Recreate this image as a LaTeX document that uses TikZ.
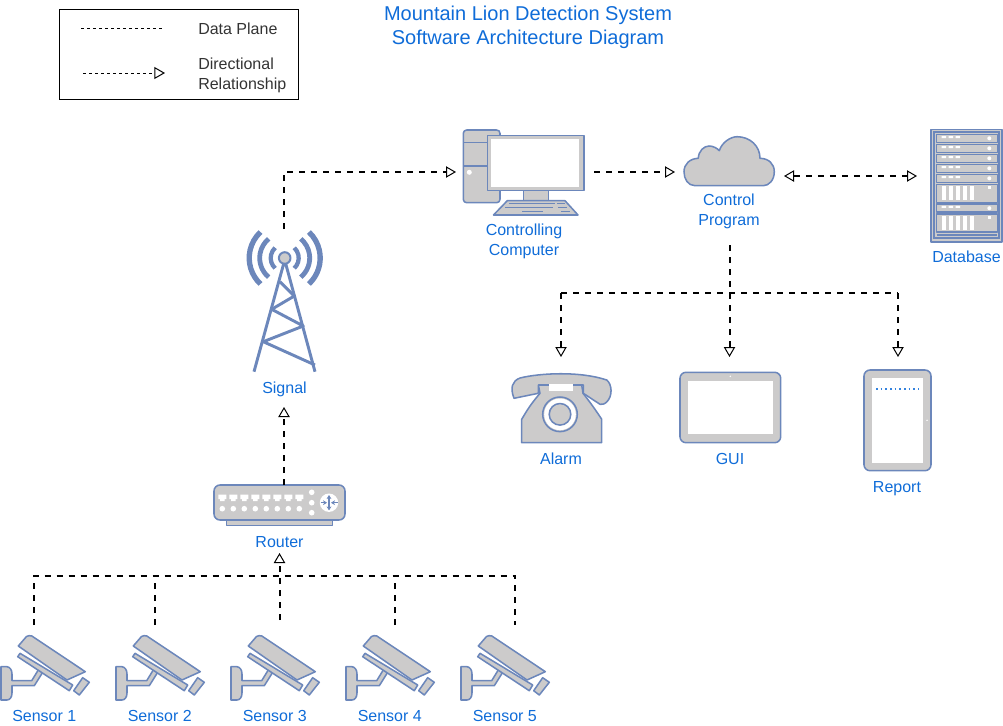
\documentclass[tikz,border=0pt]{standalone}
\usepackage{fontspec}
\setmainfont{Liberation Sans}
\usetikzlibrary{arrows.meta}
\definecolor{iconblue}{HTML}{6C87BB}
\definecolor{icongray}{HTML}{CCCBCB}
\definecolor{labelblue}{HTML}{0F6CD8}
\tikzset{
  icon/.style={draw=iconblue,fill=icongray,line width=1.15pt,line join=round},
  hole/.style={fill=white,draw=none},
  lbl/.style={text=labelblue,font=\fontsize{12}{15}\selectfont,align=center,inner sep=0pt},
  legendtxt/.style={text=black!80,font=\fontsize{12}{15}\selectfont,align=left,inner sep=0pt,anchor=west},
  link/.style={line width=1.5pt,dash pattern=on 4.8pt off 4.2pt},
  openhead/.tip={Triangle[length=7.5pt,width=8.5pt,fill=white,line width=.75pt]},
  pics/sensor/.style={code={
    \draw[icon] (0,46.7) -- (6,46.7) .. controls (9,47) and (11,50) .. (11,54) -- (11,60.7) -- (30.7,60.7)
      -- (38.3,48.3) -- (42.7,50.7) -- (33.3,65.7) -- (11,65.7) -- (11,73) .. controls (11,77) and (9,80) .. (6,80) -- (0,80) -- cycle;
    \draw[icon] (19,33.3) -- (16.7,36.7) -- (68.3,70.7) -- (71.7,65) -- cycle;
    \draw[icon] (17.3,26) -- (25.5,16.5) .. controls (27,15.5) and (29,15.5) .. (30.7,15.9) -- (84.3,51.7) -- (66,60) -- cycle;
    \draw[icon] (81.7,57.7) -- (88.3,62.3) -- (78.3,75) -- (72.7,70.7) -- cycle;
  }},
  pics/rackunit/.style={code={
    \draw[icon,line width=1.1pt] (936.7,0) rectangle (997.3,8);
    \fill[white] (941.7,1.7) rectangle (946,3.7) (948.7,1.7) rectangle (953,3.7) (955.7,1.7) rectangle (960,3.7);
    \fill[white] (989.3,4) circle (2);
  }},
  pics/rackbig/.style={code={
    \draw[icon,line width=1.1pt] (936.7,0) rectangle (997.3,18);
    \foreach \x in {941.7,948.7,955.7,962.7,969.7} \fill[white] (\x,2) rectangle ++(4.6,14);
    \fill[white] (987.5,2) rectangle ++(3.6,3);
  }}
}
\begin{document}
\begin{tikzpicture}[x=0.75pt,y=-0.75pt]
  \useasboundingbox (0,0) rectangle (1003,725);
  % legend
  \node[draw=black,line width=.75pt,minimum width=179.25pt,minimum height=67.5pt,inner sep=0pt] (legend) at (179,54.5) {};
  \node[legendtxt] (dataplane) at (198,28.5) {Data Plane};
  \node[legendtxt] (directional) at (198,75.5) {Directional\\Relationship};
  \coordinate (planea) at (81,28);
  \coordinate (planeb) at (163,28);
  \coordinate (dira) at (83,73);
  \coordinate (dirb) at (165,73);
  \draw[line width=.75pt,dash pattern=on 2.25pt off 2.25pt] (planea) -- (planeb);
  \draw[line width=.75pt,dash pattern=on 2.25pt off 2.25pt,-{Triangle[length=8pt,width=9pt,fill=white,line width=.75pt]}] (dira) -- (dirb);
  % title
  \node[text=labelblue,font=\fontsize{15}{18}\selectfont,align=center,inner sep=0pt] (title) at (528,27.5)
    {Mountain Lion Detection System\\Software Architecture Diagram};

  % sensors
  \pic at (1,620) {sensor};
  \pic at (116,620) {sensor};
  \pic at (231,620) {sensor};
  \pic at (346,620) {sensor};
  \pic at (461,620) {sensor};
  \node[lbl] (sensor1) at (44.3,716) {Sensor 1};
  \node[lbl] (sensor2) at (159.8,716) {Sensor 2};
  \node[lbl] (sensor3) at (274.8,716) {Sensor 3};
  \node[lbl] (sensor4) at (389.8,716) {Sensor 4};
  \node[lbl] (sensor5) at (504.8,716) {Sensor 5};

  % router
  \draw[icon] (226.7,520) rectangle (332.3,525.7);
  \draw[icon,rounded corners=4.5pt] (214,485) rectangle (345,520);
  \foreach \x in {222.3,233.3,244.3,255.3,266.3,277.3,288.3,299.3} {
    \fill[white] (\x-4,494.5) -- (\x+4,494.5) -- (\x+4,499) -- (\x+2.2,499) -- (\x+2.2,501) -- (\x-2.2,501) -- (\x-2.2,499) -- (\x-4,499) -- cycle;
    \fill[white] (\x,508.7) circle (2.8);
  }
  \fill[white] (311.7,492.3) circle (2.8) (311.7,502.7) circle (2.8) (311.7,512.7) circle (2.8);
  \fill[white] (329,502.7) circle (9.2);
  \draw[iconblue,line width=.85pt,{Stealth[length=3pt,width=3.6pt]}-{Stealth[length=3pt,width=3.6pt]}] (329,495) -- (329,510.4);
  \draw[iconblue,line width=.85pt,-{Stealth[length=3pt,width=3.6pt]}] (320.5,502.7) -- (327,502.7);
  \draw[iconblue,line width=.85pt,-{Stealth[length=3pt,width=3.6pt]}] (337.5,502.7) -- (331,502.7);
  \node[lbl] (router) at (279.5,542) {Router};

  % tower
  \draw[iconblue,line width=3.2pt] (284.7,258) ++(133:14) arc[start angle=133,end angle=227,radius=14];
  \draw[iconblue,line width=3.2pt] (284.7,258) ++(47:14) arc[start angle=47,end angle=-47,radius=14];
  \draw[iconblue,line width=3.6pt] (284.7,258) ++(130:25) arc[start angle=130,end angle=230,radius=25];
  \draw[iconblue,line width=3.6pt] (284.7,258) ++(50:25) arc[start angle=50,end angle=-50,radius=25];
  \draw[iconblue,line width=4pt] (284.7,258) ++(133:35.5) arc[start angle=133,end angle=227,radius=35.5];
  \draw[iconblue,line width=4pt] (284.7,258) ++(47:35.5) arc[start angle=47,end angle=-47,radius=35.5];
  \draw[iconblue,line width=2.2pt,line join=round] (254,371.7) -- (284.7,260) -- (315,371.7);
  \draw[iconblue,line width=2.2pt,line join=round] (280,281.7) -- (294.3,296) -- (271.7,309.3) -- (303.3,326) -- (263.3,341.7) -- (315,365);
  \draw[icon,line width=1.5pt] (284.7,258) circle (5.8);
  \node[lbl] (signal) at (284.5,389.5) {Signal};

  % computer
  \draw[icon,rounded corners=2.5pt] (463.3,130) rectangle (500,202.7);
  \draw[iconblue,line width=1.15pt] (463.3,142.7) -- (490,142.7) (463.3,166) -- (490,166);
  \fill[white] (469.3,172.3) circle (2.5);
  \draw[icon] (523.3,190.7) rectangle (548.3,200.7);
  \draw[icon] (487.3,135.7) rectangle (584,190.7);
  \fill[hole] (490.7,139.3) rectangle (579.3,186.7);
  \draw[icon] (507.3,200.7) -- (565,200.7) -- (578,215) -- (493.5,215) -- cycle;
  \draw[iconblue,line width=1.15pt] (509,203.5) -- (555,203.5) (557,203.5) -- (565,203.5)
    (505,207.7) -- (553,207.7) (558,207.7) -- (567,207.7)
    (522,211.3) -- (543,211.3) (561,211.3) -- (569.5,211.3);
  \node[lbl] (computer) at (524,241) {Controlling\\Computer};

  % cloud
  \draw[icon] (695,185.7) .. controls (688,185.7) and (684,179) .. (684,171.7)
    .. controls (684,164) and (690,158.5) .. (698.3,158.3)
    .. controls (698.5,151) and (704,146) .. (709,146)
    .. controls (713,146) and (717,148) .. (719.3,150.7)
    .. controls (722,142) and (731,136.7) .. (737,136.7)
    .. controls (750,136.7) and (760,146) .. (760,158.3)
    .. controls (769,158.5) and (774.3,164) .. (774.3,171.7)
    .. controls (774.3,180) and (769,185.7) .. (763.3,185.7) -- cycle;
  \node[lbl] (control) at (729,211.5) {Control\\Program};

  % database
  \draw[icon,line width=1.4pt] (930.9,129.5) rectangle (1002.3,241.7);
  \draw[iconblue,line width=1.6pt] (934.3,132.3) rectangle (999,238.3);
  \pic at (0,134.3) {rackunit};
  \pic at (0,144.3) {rackunit};
  \pic at (0,154.3) {rackunit};
  \pic at (0,164.3) {rackunit};
  \pic at (0,174.3) {rackunit};
  \pic at (0,184.3) {rackbig};
  \pic at (0,204.2) {rackunit};
  \pic at (0,214.2) {rackbig};
  \draw[iconblue,line width=.9pt] (936.7,235) -- (997.3,235);
  \node[lbl] (database) at (966.5,257) {Database};

  % alarm
  \draw[icon] (540,393.3) .. controls (530,405) and (526,412) .. (521.7,419.3) -- (521.7,442.7) -- (601.7,442.7) -- (601.7,419.3)
    .. controls (597,412) and (590,402) .. (583,393.3) -- (581.7,385) -- (538.3,385) -- cycle;
  \draw[icon] (514,398.3) .. controls (510,388) and (512,381) .. (520,378)
    .. controls (540,373) and (580,371) .. (606.7,380)
    .. controls (612,384) and (613,396) .. (606.7,402)
    .. controls (604,404.5) and (602,404.5) .. (600,404.3)
    -- (583.3,393.3) -- (583.3,385) -- (538.3,385) -- (538.3,393.3) -- cycle;
  \fill[hole] (549.3,384) rectangle (572.7,391);
  \draw[icon] (560,414.3) circle (17.3);
  \fill[hole] (560,414.3) circle (15.8);
  \draw[icon] (560,414.3) circle (10.8);
  \node[lbl] (alarm) at (561,459) {Alarm};

  % gui
  \draw[icon,rounded corners=4.5pt] (680,372.3) rectangle (780.7,442.7);
  \fill[hole] (688.3,380.7) rectangle (772.7,434);
  \fill[white] (730.3,376.3) circle (.8);
  \node[lbl] (gui) at (730,459) {GUI};

  % report
  \draw[icon,rounded corners=4.5pt] (864,370) rectangle (931,470.7);
  \fill[hole] (872,378.3) rectangle (923.3,462.7);
  \fill[white] (927,420.3) circle (.8);
  \draw[labelblue!85,line width=1.2pt,dash pattern=on 1.2pt off 2.3pt] (876,388.7) -- (918.5,388.7);
  \node[lbl] (report) at (897,489) {Report};

  % connectors
  \coordinate (sensoronetop) at (34,625);
  \coordinate (sensortwotop) at (154.5,625);
  \coordinate (sensorthreetop) at (279.5,620);
  \coordinate (sensorfourtop) at (394.5,625);
  \coordinate (sensorfivetop) at (515,625);
  \coordinate (busleft) at (34,575.5);
  \coordinate (busright) at (515,575.5);
  \coordinate (routerin) at (279.5,553);
  \coordinate (routertop) at (284,485);
  \coordinate (signalin) at (284,407);
  \coordinate (towertop) at (284,229);
  \coordinate (pcin) at (456,172);
  \coordinate (pcout) at (594,172);
  \coordinate (cloudin) at (675,172);
  \coordinate (cloudright) at (784,176);
  \coordinate (rackleft) at (917,176);
  \coordinate (progout) at (729.5,245);
  \coordinate (fanleft) at (561,293);
  \coordinate (fanright) at (898,293);
  \coordinate (alarmin) at (561,357);
  \coordinate (guiin) at (729.5,357);
  \coordinate (reportin) at (898,357);
  \draw[link] (sensoronetop) -- (busleft) -- (busright) -- (sensorfivetop);
  \draw[link] (sensortwotop) -- (sensortwotop |- busleft);
  \draw[link] (sensorfourtop) -- (sensorfourtop |- busleft);
  \draw[link,-openhead] (sensorthreetop) -- (routerin);
  \draw[link,-openhead] (routertop) -- (signalin);
  \draw[link,-openhead] (towertop) -- (towertop |- pcin) -- (pcin);
  \draw[link,-openhead] (pcout) -- (cloudin);
  \draw[link,openhead-openhead] (cloudright) -- (rackleft);
  \draw[link,-openhead] (progout) -- (guiin);
  \draw[link] (fanleft) -- (fanright);
  \draw[link,-openhead] (fanleft) -- (alarmin);
  \draw[link,-openhead] (fanright) -- (reportin);
\end{tikzpicture}
\end{document}
